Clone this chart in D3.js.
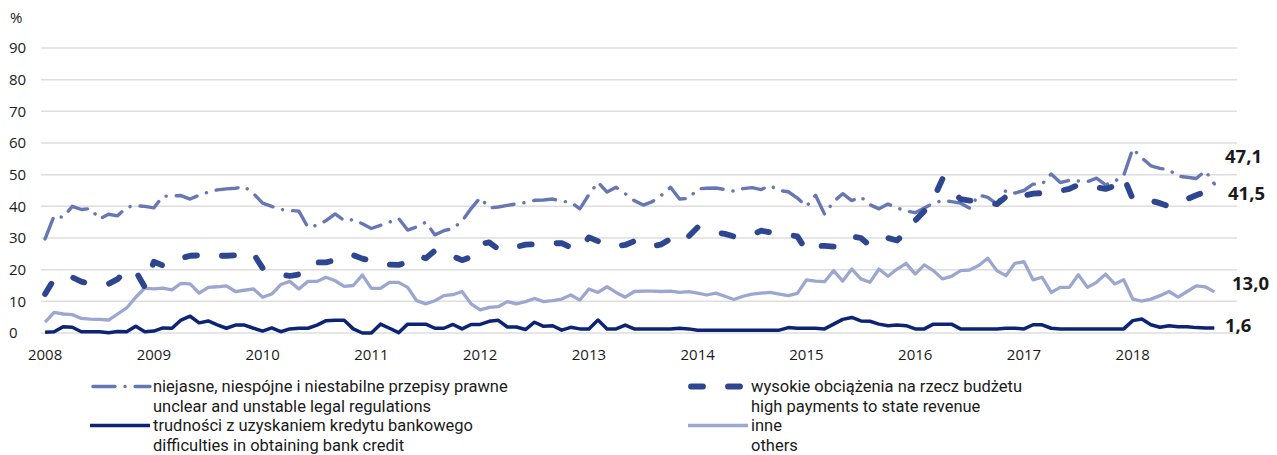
<!DOCTYPE html>
<head>
  <title>Bariery - przepisy, budzet, kredyt</title>
  <meta charset="utf-8">
  <script src="https://cdn.jsdelivr.net/npm/d3@7"></script>
  <style>
    body { margin: 0; background: #ffffff; }
    text { font-family: "Open Sans", Roboto, sans-serif; fill: #1a1a1a; }
    .grid line { stroke: #dedede; stroke-width: 1.5px; }
    .endLabel { font-weight: bold; font-size: 18.5px; }
    .legendText { font-family: Roboto, "Open Sans", sans-serif; font-size: 16.5px; }
  </style>
</head>

<body style="width:1277px; height:455px;">
  <script>
    // monthly data, January 2008 - October 2018 (% of firms)
    var startYear = 2008;
    var yearLabels = ["2008", "2009", "2010", "2011", "2012", "2013", "2014", "2015", "2016", "2017", "2018"];
    var yTicks = [0, 10, 20, 30, 40, 50, 60, 70, 80, 90];

    // niejasne, niespójne i niestabilne przepisy prawne
    var niejasne = [29.7, 37, 36.5, 40, 39, 39.3, 36, 37.5, 37, 39.7, 40.2, 40,
      39.5, 43.2, 43.3, 43.4, 42.3, 43.5, 44.5, 45.2, 45.5, 45.7, 46.2, 44,
      41, 40, 39, 38.7, 38.5, 33.4, 34, 35.5, 37.6, 35.5, 35.8, 34.5,
      33, 34, 35, 36.2, 32.5, 33.5, 35, 31, 32.3, 33, 35.3, 39.3,
      42.7, 39.5, 39.8, 40.3, 40.8, 41.2, 41.9, 42, 42.3, 41.6, 41.3, 39.2,
      43.7, 47.6, 44.5, 46, 44, 41.8, 40.4, 41.5, 43.5, 46, 42.3, 42.5,
      45.5, 45.7, 45.8, 45.3, 44.8, 45.6, 45.9, 45.3, 46.5, 45, 44.6, 42.6,
      40, 43.5, 37.5, 41.5, 44, 41.8, 43, 40.5, 39.2, 40.7, 39.5, 38.5,
      38, 39.5, 41, 41.8, 41.5, 41, 39.4, 43.6, 42.8, 40.8, 45, 44.2,
      45, 47, 47, 50.2, 47.5, 48.2, 48, 47.8, 48.9, 46.8, 47.9, 49.7,
      58.2, 55.3, 52.8, 52, 51.5, 49.5, 49.2, 48.8, 51.2, 47.1];

    // wysokie obciążenia na rzecz budżetu
    var wysokie = [12.3, 17, 17.8, 17.6, 16.2, 15.6, 15.5, 15.5, 17, 20, 19.5, 14.5,
      22.5, 21.3, 23, 23.6, 24.4, 24.5, 24.4, 24.4, 24.4, 24.5, 25.5, 25,
      20.5, 19.5, 18.5, 18, 18.5, 21.5, 22.3, 22.3, 23, 24.5, 24.6, 23.5,
      22.8, 22.3, 21.6, 21.5, 22.3, 24.4, 23.6, 26, 26, 24.2, 23, 24,
      28.1, 28.6, 26.5, 26.5, 27.2, 27.9, 28, 28.1, 28.3, 28.4, 27, 26.5,
      30.2, 29, 27.6, 27.5, 27.8, 29, 27.5, 27.4, 28, 29.7, 28.4, 30.5,
      33.4, 32.6, 31.8, 31.3, 30.5, 30.4, 31, 32.3, 31.8, 31.6, 31, 30.5,
      26, 27.5, 27.5, 27.3, 29, 30.5, 30, 27.6, 28.8, 30, 29.2, 32,
      35.5, 38.5, 42.3, 48.6, 44.9, 42.3, 41.8, 41.5, 41, 40.7, 43, 44.6,
      43.4, 44, 44.2, 44.5, 44.9, 45.5, 46.8, 46.5, 46, 45.5, 46.5, 49.3,
      42.3, 42.2, 41.8, 41, 40, 41, 42.3, 43.5, 44.6, 41.5];

    // trudności z uzyskaniem kredytu bankowego
    var trudnosci = [0.2, 0.4, 2, 1.8, 0.4, 0.4, 0.4, 0.1, 0.5, 0.4, 2.1, 0.4,
      0.6, 1.6, 1.5, 4.1, 5.3, 3.2, 3.8, 2.6, 1.5, 2.5, 2.5, 1.5,
      0.6, 1.6, 0.4, 1.3, 1.5, 1.5, 2.5, 3.9, 4, 4, 1.3, 0,
      0, 2.8, 1.5, 0.1, 2.8, 2.8, 2.8, 1.5, 1.5, 2.7, 1.3, 2.7,
      2.7, 3.7, 4, 1.9, 1.9, 1.1, 3.4, 2.1, 2.3, 0.9, 1.8, 1.3,
      1.3, 4.1, 1.3, 1.3, 2.5, 1.3, 1.3, 1.3, 1.3, 1.3, 1.5, 1.3,
      0.9, 0.9, 0.9, 0.9, 0.9, 0.9, 0.9, 0.9, 0.9, 0.9, 1.7, 1.5,
      1.5, 1.5, 1.3, 2.8, 4.3, 4.9, 3.8, 3.7, 2.8, 2.3, 2.5, 2.3,
      1.3, 1.3, 2.8, 2.8, 2.8, 1.3, 1.3, 1.3, 1.3, 1.3, 1.5, 1.5,
      1.3, 2.6, 2.6, 1.5, 1.3, 1.3, 1.3, 1.3, 1.3, 1.3, 1.3, 1.3,
      3.9, 4.4, 2.6, 1.8, 2.3, 2, 2, 1.7, 1.6, 1.6];

    // inne
    var inne = [3.4, 6.5, 6, 5.8, 4.6, 4.4, 4.3, 4.1, 6, 7.9, 11.3, 14.2,
      13.9, 14.2, 13.6, 15.7, 15.5, 12.6, 14.4, 14.6, 14.9, 13.1, 13.5, 13.9,
      11.3, 12.3, 15.3, 16.3, 13.9, 16.3, 16.3, 17.6, 16.5, 14.7, 15, 18.3,
      14.1, 14.1, 16, 16, 14.4, 10.2, 9.2, 10.2, 11.8, 12.1, 13.1, 9.2,
      7.3, 8.1, 8.3, 9.9, 9.2, 9.9, 10.9, 9.9, 10.2, 10.7, 12, 10.4,
      13.9, 12.8, 14.6, 12.8, 11.3, 13.1, 13.2, 13.2, 13.1, 13.2, 12.8, 13.1,
      12.6, 12, 12.6, 11.6, 10.6, 11.6, 12.3, 12.6, 12.8, 12.3, 11.8, 12.5,
      16.8, 16.4, 16.2, 19.7, 16.4, 20.2, 17.1, 16, 20.2, 17.9, 20.2, 22,
      18.6, 21.5, 19.7, 17.1, 17.9, 19.7, 19.9, 21.3, 23.6, 19.7, 18.1, 22,
      22.5, 16.8, 17.6, 12.8, 14.4, 14.4, 18.4, 14.4, 16, 18.6, 15.5, 16.8,
      10.7, 10.1, 10.7, 11.8, 13.1, 11.3, 13.1, 14.9, 14.6, 13.0];

    var seriesNames = [
      ["niejasne, niespójne i niestabilne przepisy prawne", "unclear and unstable legal regulations"],
      ["wysokie obciążenia na rzecz budżetu", "high payments to state revenue"],
      ["trudności z uzyskaniem kredytu bankowego", "difficulties in obtaining bank credit"],
      ["inne", "others"]
    ];

    // line styles for each series
    var styles = [
      { color: "#6677b4", width: 3.4, dash: "22,10,0.1,10" },
      { color: "#2e4690", width: 5.8, dash: "12,25" },
      { color: "#0c2473", width: 3.5, dash: null },
      { color: "#9ca7cf", width: 3.3, dash: null }
    ];

    var series = [niejasne, wysokie, trudnosci, inne];

    var width = 1277, height = 455;

    var svg = d3.select("body").append("svg")
      .attr("width", width)
      .attr("height", height);

    // month index -> x, value -> y
    var x = d3.scaleLinear()
      .domain([-0.45, 131.5])
      .range([41, 1237]);

    var y = d3.scaleLinear()
      .domain([0, 90])
      .range([333, 48]);

    // horizontal grid lines
    svg.append("g")
      .attr("class", "grid")
      .selectAll("line")
      .data(yTicks)
      .enter().append("line")
      .attr("x1", x.range()[0])
      .attr("x2", x.range()[1])
      .attr("y1", function (d) { return y(d); })
      .attr("y2", function (d) { return y(d); });

    // y tick labels, left aligned
    svg.append("g")
      .selectAll("text")
      .data(yTicks)
      .enter().append("text")
      .attr("x", 9)
      .attr("y", function (d) { return y(d); })
      .attr("dy", "0.35em")
      .style("font-size", "15px")
      .text(function (d) { return d; });

    svg.append("text")
      .attr("x", 10)
      .attr("y", 18)
      .attr("dy", "0.35em")
      .style("font-size", "15px")
      .text("%");

    // year labels at every January
    svg.append("g")
      .selectAll("text")
      .data(yearLabels)
      .enter().append("text")
      .attr("x", function (d) { return x((+d - startYear) * 12); })
      .attr("y", 355)
      .attr("dy", "0.35em")
      .attr("text-anchor", "middle")
      .style("font-size", "15px")
      .text(function (d) { return d; });

    var line = d3.line()
      .x(function (d, i) { return x(i); })
      .y(function (d) { return y(d); });

    // draw lines: others and credit underneath, dashed ones on top
    var drawOrder = [3, 2, 0, 1];
    drawOrder.forEach(function (k) {
      svg.append("path")
        .datum(series[k])
        .attr("d", line)
        .attr("fill", "none")
        .attr("stroke", styles[k].color)
        .attr("stroke-width", styles[k].width)
        .attr("stroke-linecap", styles[k].dash ? "round" : "butt")
        .attr("stroke-linejoin", "round")
        .attr("stroke-dasharray", styles[k].dash);
    });

    // last value labels
    var labelOffsets = [-27, -8, -2, -8];
    var labelX = [1225, 1228, 1225, 1232];
    series.forEach(function (s, k) {
      var last = s[s.length - 1];
      svg.append("text")
        .attr("class", "endLabel")
        .attr("x", labelX[k])
        .attr("y", y(last) + labelOffsets[k])
        .attr("dy", "0.35em")
        .text(d3.format(".1f")(last).replace(".", ","));
    });

    // legend, two columns
    var legendPos = [[90, 386.5], [688, 386.5], [90, 425.5], [688, 425.5]];
    seriesNames.forEach(function (names, k) {
      var g = svg.append("g")
        .attr("transform", "translate(" + legendPos[k][0] + "," + legendPos[k][1] + ")");
      g.append("line")
        .attr("x1", styles[k].dash ? 3 : 0)
        .attr("x2", 60)
        .attr("y1", 0)
        .attr("y2", 0)
        .attr("stroke", styles[k].color)
        .attr("stroke-width", styles[k].width)
        .attr("stroke-linecap", styles[k].dash ? "round" : "butt")
        .attr("stroke-dasharray", styles[k].dash);
      g.append("text")
        .attr("class", "legendText")
        .attr("x", 63)
        .attr("y", 0)
        .attr("dy", "0.35em")
        .text(names[0]);
      g.append("text")
        .attr("class", "legendText")
        .attr("x", 63)
        .attr("y", 19.5)
        .attr("dy", "0.35em")
        .text(names[1]);
    });
  </script>
</body>
